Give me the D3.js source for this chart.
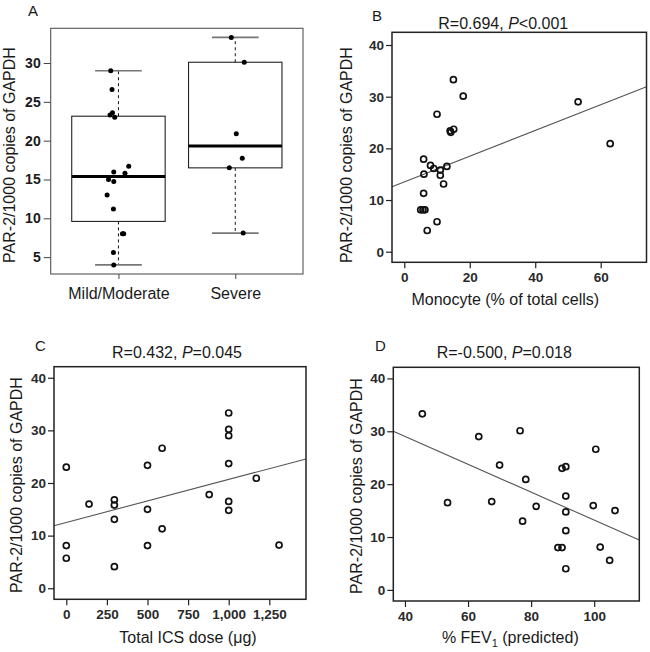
<!DOCTYPE html>
<html>
<head>
<meta charset="utf-8">
<script src="https://cdn.jsdelivr.net/npm/d3@7/dist/d3.min.js"></script>
<style>
  html, body { margin: 0; padding: 0; background: #fff; }
  svg { display: block; font-family: "Liberation Sans", Arial, sans-serif; }
</style>
</head>
<body>
<svg id="chart" width="650" height="652"></svg>
<script>
// ---------------- DATA ----------------
// Panel A: box plot by severity (jitter = horizontal offset in category units)
const groupNames = ["Mild/Moderate", "Severe"];
const mildValues = [29.0, 26.6, 23.6, 23.3, 23.0, 16.7, 15.95, 15.8, 15.0, 14.75, 13.0, 11.2, 8.0, 8.0, 5.6, 4.0];
const mildJitter = [-0.066, -0.055, -0.051, -0.072, -0.032, 0.088, -0.04, 0.056, -0.085, -0.04, -0.097, -0.043, 0.034, 0.045, -0.043, -0.04];
const severeValues = [33.3, 30.1, 20.9, 17.75, 16.5, 8.1];
const severeJitter = [-0.034, 0.077, 0.009, 0.06, -0.051, 0.068];
const aTicks = [5, 10, 15, 20, 25, 30];

// Panel B: monocyte %
const monoX = [15.0, 18.0, 53.1, 10.0, 14.0, 15.1, 14.2, 62.9, 5.9, 8.0, 9.0, 11.0, 13.0, 6.0, 11.0, 12.0, 5.9, 5.0, 5.7, 6.3, 10.0, 7.0];
const monoY = [33.3, 30.1, 29.0, 26.6, 23.4, 23.7, 23.1, 20.9, 17.9, 16.7, 16.1, 15.8, 16.5, 15.0, 14.8, 13.1, 11.3, 8.1, 8.1, 8.1, 5.8, 4.1];
const monoFit = [13.5, 0.249];            // intercept, slope
const monoTicksX = [0, 20, 40, 60];

// Panel C: total ICS dose
const icsX = [0, 0, 0, 140, 296, 296, 296, 296, 500, 500, 500, 590, 590, 1000, 1000, 1000, 1000, 1000, 1000, 880, 1170, 1310];
const icsY = [23.0, 8.1, 5.7, 16.0, 16.8, 15.8, 13.1, 4.1, 23.35, 15.0, 8.1, 26.6, 11.3, 33.3, 30.2, 29.0, 23.7, 16.5, 14.8, 17.8, 20.9, 8.2];
const icsFit = [12.5, 0.00818];
const icsTicksX = [0, 250, 500, 750, 1000, 1250];

// Panel D: % FEV1 predicted
const fevX = [45.5, 76.5, 63.4, 100.5, 70.0, 91.0, 89.8, 78.3, 91.0, 53.5, 67.5, 99.7, 81.6, 106.6, 91.0, 77.3, 91.0, 88.5, 89.8, 101.9, 104.9, 91.0];
const fevY = [33.3, 30.1, 29.0, 26.6, 23.6, 23.3, 23.0, 20.9, 17.75, 16.5, 16.7, 15.95, 15.8, 15.0, 14.75, 13.0, 11.2, 8.0, 8.0, 8.1, 5.6, 4.0];
const fevFit = [39.6, -0.264];
const fevTicksX = [40, 60, 80, 100];

const scatterTicksY = [0, 10, 20, 30, 40];
const yTitle = "PAR-2/1000 copies of GAPDH";

// ---------------- DRAW ----------------
const svg = d3.select("#chart");
const TXT = "#1a1a1a";

// ---- Panel A ----
(function () {
  const f = { x0: 50.7, x1: 303, y0: 28.3, y1: 274 };
  const x = d3.scaleLinear().domain([0.42, 2.58]).range([f.x0, f.x1]);
  const y = d3.scaleLinear().domain([2.83, 34.47]).range([f.y1, f.y0]);
  const g = svg.append("g");

  g.append("text").attr("x", 28).attr("y", 16).attr("font-size", 15).attr("fill", TXT).text("A");

  const groups = [
    { name: groupNames[0], pos: 1, vals: mildValues, jit: mildJitter },
    { name: groupNames[1], pos: 2, vals: severeValues, jit: severeJitter }
  ];
  function hinges(v) {
    const s = v.slice().sort((a, b) => a - b), n = s.length;
    const n4 = Math.floor((n + 3) / 2) / 2;
    const idx = [1, n4, (n + 1) / 2, n + 1 - n4, n];
    return idx.map(i => 0.5 * (s[Math.floor(i) - 1] + s[Math.ceil(i) - 1]));
  }
  const bw = 0.8, sw = 0.4;
  groups.forEach(gr => {
    const [lo, q1, med, q3, hi] = hinges(gr.vals);
    // whiskers dashed
    g.append("line").attr("x1", x(gr.pos)).attr("x2", x(gr.pos)).attr("y1", y(q3)).attr("y2", y(hi))
      .attr("stroke", "#111").attr("stroke-dasharray", "3,3").attr("stroke-width", 1);
    g.append("line").attr("x1", x(gr.pos)).attr("x2", x(gr.pos)).attr("y1", y(q1)).attr("y2", y(lo))
      .attr("stroke", "#111").attr("stroke-dasharray", "3,3").attr("stroke-width", 1);
    // staples
    [lo, hi].forEach(v => g.append("line").attr("x1", x(gr.pos - sw / 2)).attr("x2", x(gr.pos + sw / 2))
      .attr("y1", y(v)).attr("y2", y(v)).attr("stroke", "#777").attr("stroke-width", 1.6));
    // box
    g.append("rect").attr("x", x(gr.pos - bw / 2)).attr("y", y(q3))
      .attr("width", x(gr.pos + bw / 2) - x(gr.pos - bw / 2)).attr("height", y(q1) - y(q3))
      .attr("fill", "none").attr("stroke", "#222").attr("stroke-width", 1.1);
    g.append("line").attr("x1", x(gr.pos - bw / 2)).attr("x2", x(gr.pos + bw / 2))
      .attr("y1", y(med)).attr("y2", y(med)).attr("stroke", "#000").attr("stroke-width", 3);
    // points
    g.selectAll(null).data(gr.vals.map((v, i) => [gr.pos + gr.jit[i], v])).enter().append("circle")
      .attr("cx", d => x(d[0])).attr("cy", d => y(d[1])).attr("r", 2.5).attr("fill", "#000");
  });

  // frame
  g.append("rect").attr("x", f.x0).attr("y", f.y0).attr("width", f.x1 - f.x0).attr("height", f.y1 - f.y0)
    .attr("fill", "none").attr("stroke", "#555").attr("stroke-width", 1.1);

  // y axis
  const ya = g.append("g").attr("transform", `translate(${f.x0},0)`)
    .call(d3.axisLeft(y).tickValues(aTicks).tickSize(7).tickPadding(3).tickSizeOuter(0));
  ya.select(".domain").remove();
  ya.selectAll("line").attr("stroke", "#444");
  ya.selectAll("text").attr("font-size", 14).attr("font-weight", "bold").attr("fill", TXT)
    .attr("font-family", "Liberation Sans, Arial, sans-serif");

  // x axis
  const xa = g.append("g").attr("transform", `translate(0,${f.y1})`)
    .call(d3.axisBottom(x).tickValues([1, 2]).tickFormat(d => groupNames[d - 1]).tickSize(5).tickPadding(9).tickSizeOuter(0));
  xa.select(".domain").remove();
  xa.selectAll("line").attr("stroke", "#444");
  xa.selectAll("text").attr("font-size", 16).attr("fill", TXT).attr("font-family", "Liberation Sans, Arial, sans-serif");

  g.append("text").attr("transform", `translate(15,155) rotate(-90)`).attr("text-anchor", "middle")
    .attr("font-size", 16).attr("fill", TXT).text(yTitle);
})();

// ---- Scatter panels ----
function scatter(o) {
  const f = o.frame;
  const x = d3.scaleLinear().domain(o.xDom).range([f.x0, f.x1]);
  const y = d3.scaleLinear().domain(o.yDom).range([f.y1, f.y0]);
  const g = svg.append("g");

  g.append("text").attr("x", o.letterPos[0]).attr("y", o.letterPos[1]).attr("font-size", 15).attr("fill", TXT).text(o.letter);

  const t = g.append("text").attr("x", (f.x0 + f.x1) / 2 + o.titleDx).attr("y", o.titleY)
    .attr("text-anchor", "middle").attr("font-size", 16).attr("fill", TXT);
  t.append("tspan").text(o.title[0]);
  t.append("tspan").attr("font-style", "italic").text("P");
  t.append("tspan").text(o.title[1]);

  // regression line
  const [b0, b1] = o.fit;
  g.append("line").attr("x1", x(o.xDom[0])).attr("y1", y(b0 + b1 * o.xDom[0]))
    .attr("x2", x(o.xDom[1])).attr("y2", y(b0 + b1 * o.xDom[1]))
    .attr("stroke", "#555").attr("stroke-width", 1.1);

  // points
  g.selectAll(null).data(o.xs.map((v, i) => [v, o.ys[i]])).enter().append("circle")
    .attr("cx", d => x(d[0])).attr("cy", d => y(d[1])).attr("r", 3)
    .attr("fill", "none").attr("stroke", "#111").attr("stroke-width", 1.7);

  // frame
  g.append("rect").attr("x", f.x0).attr("y", f.y0).attr("width", f.x1 - f.x0).attr("height", f.y1 - f.y0)
    .attr("fill", "none").attr("stroke", "#222").attr("stroke-width", 1.5);

  const ya = g.append("g").attr("transform", `translate(${f.x0},0)`)
    .call(d3.axisLeft(y).tickValues(scatterTicksY).tickSize(6).tickPadding(2).tickSizeOuter(0));
  ya.select(".domain").remove();
  ya.selectAll("line").attr("stroke", "#222").attr("stroke-width", 1.2);
  ya.selectAll("text").attr("font-size", 13.5).attr("font-weight", "bold").attr("fill", "#2a2a2a")
    .attr("font-family", "Liberation Sans, Arial, sans-serif");

  const xa = g.append("g").attr("transform", `translate(0,${f.y1})`)
    .call(d3.axisBottom(x).tickValues(o.xTicks).tickSize(6).tickPadding(4).tickSizeOuter(0));
  xa.select(".domain").remove();
  xa.selectAll("line").attr("stroke", "#222").attr("stroke-width", 1.2);
  xa.selectAll("text").attr("font-size", 13.5).attr("font-weight", "bold").attr("fill", "#2a2a2a")
    .attr("font-family", "Liberation Sans, Arial, sans-serif");

  g.append("text").attr("transform", `translate(${o.yTitlePos[0]},${o.yTitlePos[1]}) rotate(-90)`)
    .attr("text-anchor", "middle").attr("font-size", 16).attr("fill", TXT).text(yTitle);

  const xt = g.append("text").attr("x", (f.x0 + f.x1) / 2 + o.xTitleDx).attr("y", o.xTitleY)
    .attr("text-anchor", "middle").attr("font-size", 16).attr("fill", TXT);
  o.xTitle(xt);
}

scatter({
  frame: { x0: 392, x1: 646.5, y0: 32.3, y1: 262.3 },
  xDom: [-3.76, 74.0], yDom: [-2.05, 42.46],
  xs: monoX, ys: monoY, fit: monoFit, xTicks: monoTicksX,
  letter: "B", letterPos: [372, 21],
  title: ["R=0.694, ", "<0.001"], titleY: 29, titleDx: -16,
  yTitlePos: [352, 155],
  xTitle: t => t.text("Monocyte (% of total cells)"), xTitleY: 305, xTitleDx: -14
});

scatter({
  frame: { x0: 54, x1: 306, y0: 366.7, y1: 599.3 },
  xDom: [-75.7, 1476], yDom: [-2.1, 42.1],
  xs: icsX, ys: icsY, fit: icsFit, xTicks: icsTicksX,
  letter: "C", letterPos: [35, 351],
  title: ["R=0.432, ", "=0.045"], titleY: 358, titleDx: -3,
  yTitlePos: [21.5, 485],
  xTitle: t => t.text("Total ICS dose (μg)"), xTitleY: 643, xTitleDx: 8
});

scatter({
  frame: { x0: 393.3, x1: 639.3, y0: 367.3, y1: 601 },
  xDom: [36.3, 114.3], yDom: [-2.1, 42.1],
  xs: fevX, ys: fevY, fit: fevFit, xTicks: fevTicksX,
  letter: "D", letterPos: [375, 351],
  title: ["R=-0.500, ", "=0.018"], titleY: 358, titleDx: -12,
  yTitlePos: [361.5, 486],
  xTitle: t => {
    t.append("tspan").text("% FEV");
    t.append("tspan").attr("font-size", 11).attr("dy", 4).text("1");
    t.append("tspan").attr("dy", -4).text(" (predicted)");
  }, xTitleY: 643, xTitleDx: -6
});
</script>
</body>
</html>
